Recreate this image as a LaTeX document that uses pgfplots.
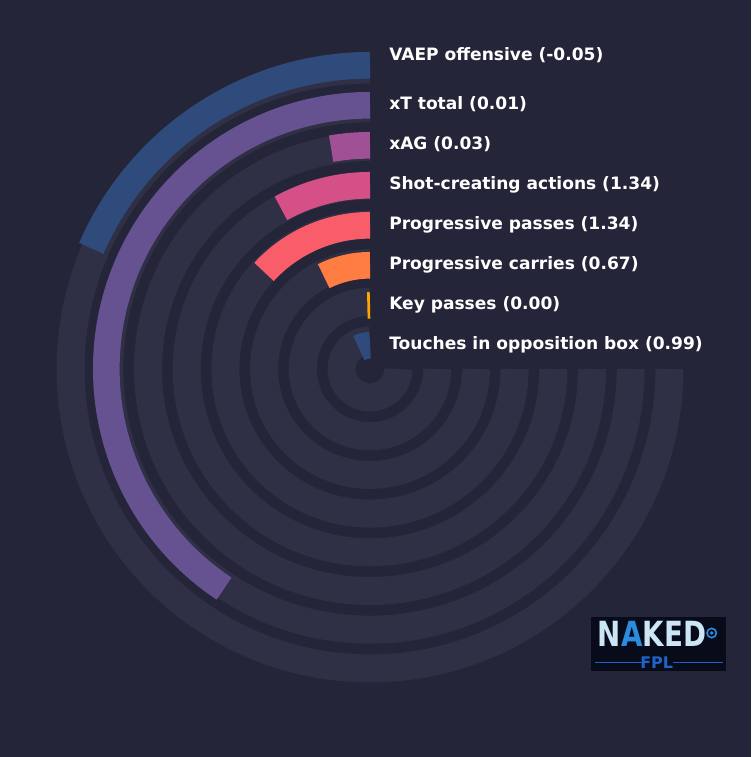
\documentclass[border=0pt]{standalone}
\usepackage{pgfplots}
\pgfplotsset{compat=1.18}
\usepackage{pgfplotstable}
\usepackage{fontspec}
\setmainfont{DejaVu Sans}

\definecolor{bg}{RGB}{37,37,57}
\definecolor{track}{RGB}{47,48,69}
\definecolor{c1}{HTML}{2F4B7C}
\definecolor{c2}{HTML}{665191}
\definecolor{c3}{HTML}{A05195}
\definecolor{c4}{HTML}{D45087}
\definecolor{c5}{HTML}{F95D6A}
\definecolor{c6}{HTML}{FF7C43}
\definecolor{c7}{HTML}{FFA600}
\definecolor{logobg}{HTML}{070B1A}
\definecolor{logolight}{HTML}{CDE6F5}
\definecolor{logoblue}{HTML}{2B8BE0}
\definecolor{logodark}{HTML}{1E63C6}

% track radius, bar radius (px) and swept angle (deg, out of 270)
\pgfplotstableread{
name   r      rb     sweep
touch  28.5   23.7   28.0
key    67.2   63.7   2.4
carry  105.9  103.7  26.5
ppass  144.6  143.7  47.5
shot   183.3  183.7  29.0
xag    222.0  223.7  10.0
xt     260.7  263.7  146.4
vaep   299.4  303.7  66.6
}\bars

% arc drawn from the top, counter-clockwise
\pgfdeclareplotmark{ringarc}{%
  \pgfpathmoveto{\pgfpointorigin}%
  \pgfpatharc{90}{90+\sw}{\rr pt}%
  \pgfusepathqstroke}

\begin{document}
\begin{tikzpicture}
\fill[bg] (0,0) rectangle (563.25pt,567.75pt);
\begin{axis}[
    at={(0,0)}, anchor=south west,
    scale only axis,
    width=563.25pt, height=567.75pt,
    xmin=-370, xmax=381,
    ymin=-388, ymax=369,
    hide axis,
    clip=false,
]
% background tracks
\addplot[only marks, mark=ringarc, color=track, mark options={line width=21pt},
    visualization depends on={value 270\as\sw},
    visualization depends on={\thisrow{r}*0.75\as\rr}]
    table[x expr=0, y=r]{\bars};
% bars
\addplot[scatter, only marks, mark=ringarc, scatter src=explicit symbolic,
    mark options={line width=20pt},
    visualization depends on={\thisrow{sweep}\as\sw},
    visualization depends on={\thisrow{rb}*0.75\as\rr},
    scatter/classes={
        vaep={draw=c1}, xt={draw=c2}, xag={draw=c3}, shot={draw=c4},
        ppass={draw=c5}, carry={draw=c6}, key={draw=c7}, touch={draw=c1}}]
    table[x expr=0, y=rb, meta=name]{\bars};
% centre hole
\fill[bg] (axis cs:0,0) circle[radius=10pt];

\begin{scope}[every node/.style={anchor=base west, text=white,
        font=\bfseries\fontsize{12.8}{15}\selectfont, inner sep=0pt}]
\node at (axis cs:19,308) {VAEP offensive (-0.05)};
\node at (axis cs:19,259) {xT total (0.01)};
\node at (axis cs:19,219) {xAG (0.03)};
\node at (axis cs:19,179) {Shot-creating actions (1.34)};
\node at (axis cs:19,139) {Progressive passes (1.34)};
\node at (axis cs:19,99) {Progressive carries (0.67)};
\node at (axis cs:19,59) {Key passes (0.00)};
\node at (axis cs:19,19) {Touches in opposition box (0.99)};
\end{scope}

% logo
\fill[logobg] (axis cs:221,-248) rectangle (axis cs:356,-302);
\node[inner sep=0pt, xscale=0.8, font=\bfseries\fontsize{26}{28}\selectfont]
    at (axis cs:282,-264.7) {\textcolor{logolight}{N}\textcolor{logoblue}{A}\textcolor{logolight}{KED}};
\draw[logoblue, line width=1.2pt] (axis cs:341.7,-264) circle[radius=3.5pt];
\fill[logoblue] (axis cs:341.7,-264) circle[radius=1.4pt];
\node[inner sep=0pt, text=logodark, font=\bfseries\fontsize{12}{13}\selectfont]
    at (axis cs:286.7,-294) {FPL};
\draw[logodark, line width=0.8pt] (axis cs:225,-293.7) -- (axis cs:271.7,-293.7);
\draw[logodark, line width=0.8pt] (axis cs:303.3,-293.7) -- (axis cs:353.3,-293.7);
\end{axis}
\end{tikzpicture}
\end{document}
